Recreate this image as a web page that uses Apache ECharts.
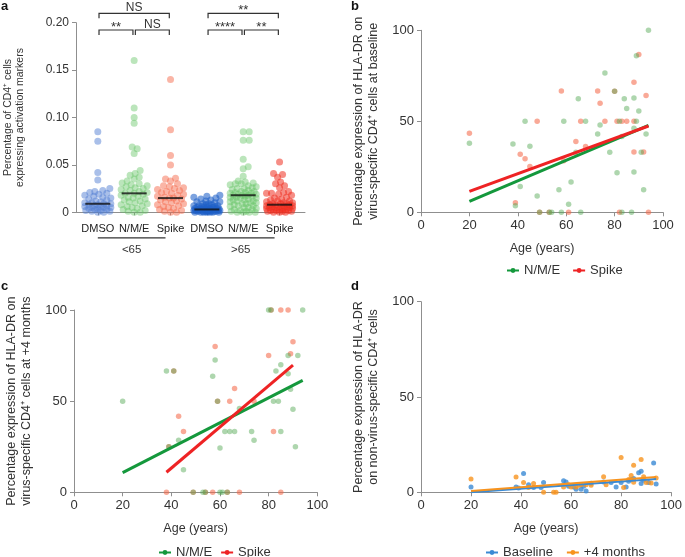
<!DOCTYPE html>
<html><head><meta charset="utf-8">
<script src="https://cdn.jsdelivr.net/npm/echarts@6/dist/echarts.min.js"></script>
<style>html,body{margin:0;padding:0;background:#fff}#c{width:685px;height:557px}</style>
</head><body><div id="c"></div>
<script>
// ---------- Panel a data ----------
const catLabels = ['DMSO','N/M/E','Spike','DMSO','N/M/E','Spike'];
const groupLabels = ['<65','>65'];
const groupStart = [0,3];
const groupEnd = [2,5];
const dmsoYoung = [0.085,0.075,0.042,0.034,0.025,0.023,0.022,0.021,0.020,0.019,0.018,0.017,0.016,0.015,0.014,0.013,0.012,0.011,0.010,0.010,0.009,0.009,0.008,0.008,0.007,0.007,0.006,0.006,0.005,0.005,0.005,0.004,0.004,0.003,0.003,0.002,0.002,0.001,0.001,0.000,0.000];
const nmeYoung = [0.160,0.110,0.100,0.094,0.069,0.067,0.062,0.044,0.041,0.039,0.037,0.035,0.033,0.031,0.030,0.029,0.028,0.027,0.026,0.025,0.024,0.023,0.022,0.021,0.020,0.020,0.019,0.018,0.017,0.016,0.015,0.014,0.013,0.012,0.011,0.010,0.009,0.008,0.007,0.006,0.005,0.004,0.003,0.002,0.001,0.000,0.000];
const spikeYoung = [0.140,0.087,0.060,0.050,0.036,0.035,0.033,0.030,0.028,0.027,0.026,0.025,0.024,0.023,0.022,0.021,0.020,0.019,0.018,0.017,0.016,0.015,0.015,0.014,0.013,0.012,0.011,0.010,0.009,0.008,0.007,0.006,0.005,0.004,0.003,0.002,0.001,0.000,0.000];
const dmsoOld = [0.018,0.017,0.016,0.015,0.014,0.013,0.012,0.011,0.011,0.010,0.009,0.009,0.008,0.008,0.007,0.007,0.007,0.006,0.006,0.006,0.005,0.005,0.005,0.005,0.004,0.004,0.004,0.004,0.004,0.003,0.003,0.003,0.003,0.003,0.003,0.002,0.002,0.002,0.002,0.002,0.002,0.002,0.001,0.001,0.001,0.001,0.001,0.001,0.001,0.000,0.000,0.000,0.000,0.000,0.000,0.000];
const nmeOld = [0.085,0.085,0.076,0.076,0.056,0.048,0.046,0.038,0.033,0.032,0.031,0.030,0.030,0.029,0.028,0.027,0.026,0.025,0.025,0.024,0.023,0.022,0.022,0.021,0.021,0.020,0.020,0.019,0.019,0.018,0.018,0.018,0.017,0.017,0.016,0.016,0.015,0.015,0.014,0.013,0.013,0.012,0.012,0.011,0.010,0.010,0.009,0.009,0.008,0.007,0.007,0.006,0.005,0.005,0.004,0.003,0.003,0.002,0.001,0.001,0.000,0.000,0.000,0.000];
const spikeOld = [0.053,0.041,0.040,0.037,0.032,0.030,0.028,0.026,0.022,0.021,0.020,0.020,0.019,0.018,0.016,0.015,0.014,0.013,0.012,0.012,0.011,0.010,0.010,0.009,0.009,0.009,0.008,0.008,0.008,0.007,0.007,0.007,0.006,0.006,0.006,0.005,0.005,0.005,0.004,0.004,0.004,0.003,0.003,0.003,0.002,0.002,0.002,0.001,0.001,0.001,0.000,0.000,0.000];
const medians = [0.009,0.020,0.015,0.003,0.018,0.008];
const bracketFrom = [0,3,0,1,3,4];
const bracketTo = [2,5,1,2,4,5];
const bracketRow = [0,0,1,1,1,1];
const bracketText = ['NS','**','**','NS','****','**'];
const aTicks = [0,0.05,0.10,0.15,0.20];

// ---------- Panel b data (baseline) ----------
const bNmeAge = [20,38,39,41,43,45,48,49,53,54,57,58,59,61,62,64,65,66,68,73,74,76,78,80,81,82,83,83,84,85,87,88,88,88,89,89,90,91,92,93,94];
const bNmeVal = [38,37.5,3.6,14.2,50,36.3,9,0,0,0,12.4,0,50,4.4,16.6,33,62.4,0,50,43,48,76.5,33,66.5,21.7,50,41.6,0,62.4,57,0,62.8,46.2,22.1,50,86,55.7,33,12.4,43,100];
const bSpikeAge = [20,39,41,43,45,48,49,53,58,59,61,64,66,68,73,74,76,80,81,82,83,85,88,88,88,90,92,93,94];
const bSpikeVal = [43.4,5.3,31.9,29.4,25.2,50,0,0,66.6,28.3,0,38.9,50,36.1,66.6,59.9,50,66.5,50,0,50,50,71.5,50,33.2,86.7,33.2,64.2,0];
const bNmeFitX = [20,94], bNmeFitY = [6,47.8];
const bSpikeFitX = [20,94], bSpikeFitY = [11.5,47.4];

// ---------- Panel c data (+4 months) ----------
const cNmeAge = [20,38,39,41,43,45,49,53,54,57,58,59,60,60,61,62,63,64,66,68,73,74,80,81,82,83,84,85,85,88,88,89,90,91,92,94];
const cNmeVal = [50,66.5,25,66.5,28.5,12.4,0,0,0,63.6,72.6,50,24.3,0,0,33.3,0,33.3,33.3,46,33.3,28.5,100,100,50,66.5,50,33.3,70,65,75,56.5,45.5,25,75,100];
const cSpikeAge = [38,39,41,43,45,49,54,57,58,59,63,64,66,68,74,80,81,82,85,85,88,89,90];
const cSpikeVal = [0,25,66.5,41.7,33.3,0,0,0,80,50,0,50,57,0,50,75,100,33.3,100,0,100,76,82.6];
const cNmeFitX = [20,94], cNmeFitY = [10.8,61.4];
const cSpikeFitX = [38,90], cSpikeFitY = [11,69.8];

// ---------- Panel d data (non-virus-specific) ----------
const dBaseAge = [20,38,39,41,43,45,48,49,57,58,59,61,62,64,65,66,68,73,76,78,80,82,83,84,85,87,88,88,89,91,93,94];
const dBaseVal = [2.8,2.8,2.3,9.8,4,2.5,2.5,5.1,6.1,5.4,3.2,2.8,1.6,1.6,3.2,0.7,4.7,5.4,5.1,2.8,5.1,2.8,5.8,6.7,7.2,10.2,11,4.6,6.3,5.1,15.4,4.4];
const dPlusAge = [20,38,41,43,45,49,53,54,57,59,60,62,63,64,66,68,73,74,80,81,83,84,85,85,88,89,90,92,94];
const dPlusVal = [7,8,5.1,2.5,4.6,0,0,0,2.8,4,2.8,2.8,3.7,4,4,3.7,8.2,4,18.2,2.5,6.7,8.8,14.2,5.3,17.2,8.2,5.1,4.9,7.5];
const dBaseFitX = [20,94], dBaseFitY = [0,7];
const dPlusFitX = [20,94], dPlusFitY = [0.7,8];

// ---------- helpers ----------
const FONT = 'Liberation Sans, Arial, Helvetica, sans-serif';
const zip = (a,b) => a.map((v,i)=>[v,b[i]]);
const A_LEFT=76, A_TOP=22.7, A_W=229, A_H=189.6, A_XMIN=-0.6, A_XMAX=5.7, A_YMAX=0.2;
// deterministic beeswarm layout (offsets in pixels, converted to axis units)
function swarm(vals, idx){
  const pxPerVal = A_H/A_YMAX, pxPerCat = A_W/(A_XMAX-A_XMIN);
  const sorted = vals.slice().sort((a,b)=>a-b);
  const placed = [], out = [];
  const D = 5.2, maxOff = 13;
  for(const v of sorted){
    const y = v*pxPerVal;
    let best = 0, bestScore = -1;
    for(let k=0;k<=2*maxOff;k++){
      const off = (k%2?1:-1)*Math.ceil(k/2);
      let m = Infinity;
      for(const p of placed){ const d=Math.hypot(p[0]-off,p[1]-y); if(d<m) m=d; }
      if(m>=D){ best=off; bestScore=m; break; }
      if(m>bestScore){ bestScore=m; best=off; }
    }
    placed.push([best,y]);
    out.push([idx+best/pxPerCat, v]);
  }
  return out;
}
const axisCommon = {
  axisLine:{show:true,onZero:false,lineStyle:{color:'#8f8f8f',width:1}},
  axisTick:{show:true,length:4,lineStyle:{color:'#8f8f8f'}},
  splitLine:{show:false},
  axisLabel:{color:'#333',fontSize:13,fontFamily:FONT,margin:7},
  nameTextStyle:{color:'#333',fontSize:12.5,fontFamily:FONT,lineHeight:15}
};
function ax(extra){ return Object.assign({}, JSON.parse(JSON.stringify(axisCommon)), extra); }

const chart = echarts.init(document.getElementById('c'), null, {renderer:'canvas'});

const aGroups = [dmsoYoung,nmeYoung,spikeYoung,dmsoOld,nmeOld,spikeOld];
const aColors = ['rgba(80,125,210,0.62)','rgba(100,195,100,0.55)','rgba(245,105,75,0.62)',
                 'rgba(30,95,200,0.72)','rgba(100,195,100,0.55)','rgba(238,45,30,0.68)'];

const series = [];
aGroups.forEach((g,i)=>{
  series.push({type:'scatter',xAxisIndex:0,yAxisIndex:0,data:swarm(g,i),symbolSize:7,
    itemStyle:{color:aColors[i]},silent:true,z:2});
});
series.push({type:'scatter',xAxisIndex:0,yAxisIndex:0,data:medians.map((m,i)=>[i,m]),
  symbol:'rect',symbolSize:[25,2],itemStyle:{color:'#111'},z:5,silent:true});
// significance brackets
series.push({type:'custom',xAxisIndex:0,yAxisIndex:0,clip:false,silent:true,z:6,
  data:bracketFrom.map((f,i)=>[f,bracketTo[i],bracketRow[i],i]),
  renderItem:(params,api)=>{
    const i=api.value(3);
    const x0=api.coord([api.value(0),0])[0]+1.2;
    const x1=api.coord([api.value(1),0])[0]-1.2;
    const top=api.coord([0,A_YMAX])[1];
    const yT = api.value(2)===0 ? top-9.4 : top+7.3;
    const t=bracketText[i];
    const star = t.indexOf('*')>=0;
    return {type:'group',children:[
      {type:'polyline',shape:{points:[[x0,yT+5],[x0,yT],[x1,yT],[x1,yT+5]]},style:{stroke:'#333',lineWidth:1.2,fill:null}},
      {type:'text',style:{text:t,x:(x0+x1)/2,y:star?yT-3:yT-5.5,align:'center',verticalAlign:'middle',
        fill:'#333',font:(star?'13px ':'12px ')+FONT}}
    ]};
  }});
// age group underline + label
series.push({type:'custom',xAxisIndex:0,yAxisIndex:0,clip:false,silent:true,z:6,
  data:groupStart.map((s,i)=>[s,groupEnd[i],i]),
  renderItem:(params,api)=>{
    const x0=api.coord([api.value(0),0])[0];
    const x1=api.coord([api.value(1),0])[0]-5;
    const y=api.coord([0,0])[1]+25.5;
    return {type:'group',children:[
      {type:'line',shape:{x1:x0,y1:y,x2:x1,y2:y},style:{stroke:'#333',lineWidth:1.3}},
      {type:'text',style:{text:groupLabels[api.value(2)],x:(x0+x1)/2,y:y+12,align:'center',verticalAlign:'middle',fill:'#333',font:'11.5px '+FONT}}
    ]};
  }});

const GREEN_PT='rgba(85,170,85,0.6)', RED_PT='rgba(245,105,75,0.72)';
const GREEN_LN='#14983c', RED_LN='#ee2324';
function fitLine(name,xs,ys,color,xi,w){
  return {type:'line',name:name,xAxisIndex:xi,yAxisIndex:xi,data:zip(xs,ys),showSymbol:false,symbol:'circle',symbolSize:5,
    lineStyle:{color:color,width:w},itemStyle:{color:color},z:4,silent:true};
}
function pts(name,xs,ys,color,xi,size){
  return {type:'scatter',name:name,xAxisIndex:xi,yAxisIndex:xi,data:zip(xs,ys),symbolSize:size,itemStyle:{color:color},z:2,silent:true};
}
// panel b
series.push(fitLine('N/M/E',bNmeFitX,bNmeFitY,GREEN_LN,1,3));
series.push(fitLine('Spike',bSpikeFitX,bSpikeFitY,RED_LN,1,3));
series.push(pts('Spike',bSpikeAge,bSpikeVal,RED_PT,1,5.5));
series.push(pts('N/M/E',bNmeAge,bNmeVal,GREEN_PT,1,5.5));
// panel c
series.push(fitLine('N/M/E',cNmeFitX,cNmeFitY,GREEN_LN,2,3));
series.push(fitLine('Spike',cSpikeFitX,cSpikeFitY,RED_LN,2,3));
series.push(pts('Spike',cSpikeAge,cSpikeVal,RED_PT,2,5.5));
series.push(pts('N/M/E',cNmeAge,cNmeVal,GREEN_PT,2,5.5));
// panel d
series.push(fitLine('Baseline',dBaseFitX,dBaseFitY,'#3a8ad4',3,2));
series.push(fitLine('+4 months',dPlusFitX,dPlusFitY,'#f7931e',3,2));
series.push(pts('Baseline',dBaseAge,dBaseVal,'#3a8ad4',3,5));
series.push(pts('+4 months',dPlusAge,dPlusVal,'#f7931e',3,5));

const ageAxis = (gi)=>ax({gridIndex:gi,type:'value',min:0,max:100,interval:20,name:'Age (years)',nameLocation:'middle',nameGap:29});
const pctAxis = (gi,name)=>ax({gridIndex:gi,type:'value',min:0,max:100,interval:50,name:name,nameLocation:'middle',nameGap:40,nameRotate:90});

const legendText = {color:'#333',fontSize:13,fontFamily:FONT};
const legendCommon = {itemWidth:12,itemHeight:6,textStyle:legendText,selectedMode:false,lineStyle:{width:2}};
const option = {
  animation:false,
  backgroundColor:'#fff',
  textStyle:{fontFamily:FONT},
  title:[
    {text:'a',left:1,top:0,padding:0,textStyle:{fontSize:13,fontWeight:'bold',color:'#111',fontFamily:FONT}},
    {text:'b',left:351,top:0,padding:0,textStyle:{fontSize:13,fontWeight:'bold',color:'#111',fontFamily:FONT}},
    {text:'c',left:1,top:280,padding:0,textStyle:{fontSize:13,fontWeight:'bold',color:'#111',fontFamily:FONT}},
    {text:'d',left:351,top:280,padding:0,textStyle:{fontSize:13,fontWeight:'bold',color:'#111',fontFamily:FONT}}
  ],
  grid:[
    {left:A_LEFT,top:A_TOP,width:A_W,height:A_H},
    {left:421,top:30.3,width:242,height:182},
    {left:74,top:310,width:243.3,height:182.3},
    {left:421,top:301.7,width:254,height:190.6}
  ],
  xAxis:[
    ax({gridIndex:0,type:'value',min:A_XMIN,max:A_XMAX,
      axisTick:{show:true,length:3,customValues:[0,1,2,3,4,5],lineStyle:{color:'#8f8f8f'}},
      axisLabel:{color:'#222',fontSize:11,fontFamily:FONT,margin:11,customValues:[0,1,2,3,4,5],formatter:v=>catLabels[Math.round(v)]}}),
    ageAxis(1), ageAxis(2), ageAxis(3)
  ],
  yAxis:[
    ax({gridIndex:0,type:'value',min:0,max:A_YMAX,
      axisTick:{show:true,length:4,customValues:aTicks,lineStyle:{color:'#8f8f8f'}},
      axisLabel:{color:'#333',fontSize:12,fontFamily:FONT,margin:7,customValues:aTicks,formatter:v=>v===0?'0':v.toFixed(2)},
      name:'Percentage of CD4\u207A cells\nexpressing activation markers',nameLocation:'middle',nameGap:50,nameRotate:90,
      nameTextStyle:{color:'#333',fontSize:10.5,fontFamily:FONT,lineHeight:12}}),
    pctAxis(1,'Percentage expression of HLA-DR on\nvirus-specific CD4\u207A cells at baseline'),
    pctAxis(2,'Percentage expression of HLA-DR on\nvirus-specific CD4\u207A cells at +4 months'),
    pctAxis(3,'Percentage expression of HLA-DR\non non-virus-specific CD4\u207A cells')
  ],
  legend:[
    Object.assign({data:['N/M/E','Spike'],left:501,top:259,itemGap:12},legendCommon),
    Object.assign({data:['N/M/E','Spike'],left:153,top:541,itemGap:8},legendCommon),
    Object.assign({data:['Baseline','+4 months'],left:480,top:541,itemGap:13},legendCommon)
  ],
  series:series
};
chart.setOption(option);
</script></body></html>
